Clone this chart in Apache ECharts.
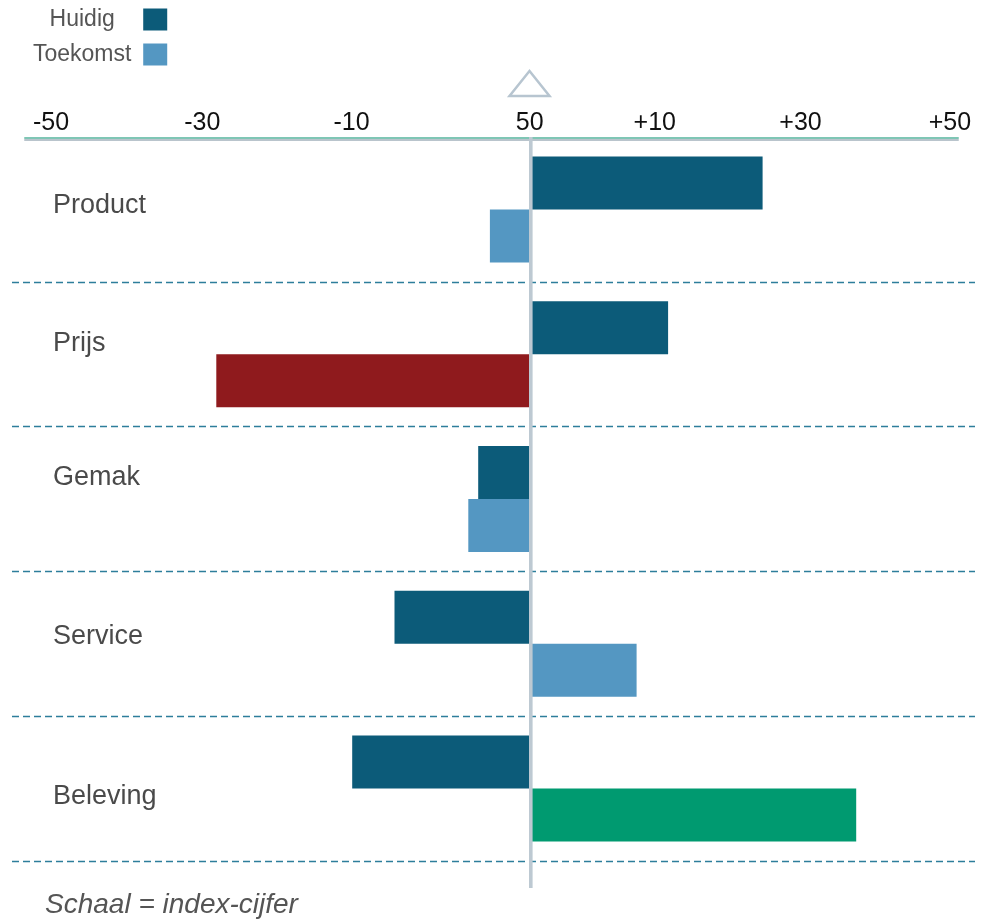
<!DOCTYPE html>
<html lang="nl">
<head>
<meta charset="UTF-8">
<title>Huidig vs Toekomst</title>
<script src="https://cdn.jsdelivr.net/npm/echarts@6/dist/echarts.min.js"></script>
<style>
  html, body { margin: 0; padding: 0; background: #fff; }
  #main { width: 981px; height: 920px; }
</style>
</head>
<body>
<div id="main"></div>
<script>
// data
var categories = ['Product', 'Prijs', 'Gemak', 'Service', 'Beleving'];
var huidig = [25.9, 15.4, -5.7, -15.0, -19.7];
var toekomst = [-4.4, -34.8, -6.8, 11.9, 36.3];
// top scale labels and where they sit on the axis
var tickText = ['-50', '-30', '-10', '50', '+10', '+30', '+50'];
var tickPos = [-53.2, -36.4, -19.8, 0, 13.9, 30.1, 46.7];

var C_HUIDIG = '#0c5b79';
var C_TOEKOMST = '#5497c2';
var highlight = { 'Prijs': '#8f1a1d', 'Beleving': '#009a70' };

var chart = echarts.init(document.getElementById('main'));

var toekomstData = toekomst.map(function (v, i) {
  var c = highlight[categories[i]];
  return c ? { value: v, itemStyle: { color: c } } : v;
});

// labels in the original do not sit exactly mid-band
var nudge = [-4, -11, -21, -7, 8];
var catRich = {};
nudge.forEach(function (d, i) {
  catRich['n' + i] = {
    fontFamily: 'Liberation Sans', fontSize: 27, color: '#4a4a4a',
    padding: d < 0 ? [0, 0, -2 * d, 0] : [2 * d, 0, 0, 0]
  };
});

var option = {
  animation: false,
  title: {
    text: 'Schaal = index-cijfer',
    left: 40,
    top: 886,
    textStyle: { fontFamily: 'Liberation Sans', fontSize: 28, fontStyle: 'italic', fontWeight: 'normal', color: '#555' }
  },
  legend: {
    orient: 'vertical',
    left: 28,
    top: 3,
    align: 'right',
    icon: 'rect',
    itemWidth: 24,
    itemHeight: 22,
    itemGap: 12,
    data: ['Huidig', 'Toekomst'],
    formatter: '{t|{name}}',
    textStyle: {
      rich: { t: { width: 112, align: 'center', fontFamily: 'Liberation Sans', fontSize: 23, color: '#555' } }
    }
  },
  grid: [
    { left: 12, right: 6, top: 137, bottom: 59 },
    { left: 25, right: 23, top: 137, height: 1 }
  ],
  xAxis: [
    { type: 'value', gridIndex: 0, min: -57.5, max: 49.5, show: false },
    {
      type: 'value', gridIndex: 1, position: 'top',
      min: -56.1, max: 47.6,
      splitLine: { show: false },
      axisTick: { show: false },
      axisLine: { show: true, lineStyle: { color: '#7fc6b5', width: 2, shadowColor: '#b9c4cc', shadowOffsetY: 2, shadowBlur: 0 } },
      axisLabel: {
        customValues: tickPos,
        margin: 1,
        fontFamily: 'Liberation Sans',
        fontSize: 25,
        color: '#111',
        formatter: function (v) {
          var i = tickPos.indexOf(v);
          return i >= 0 ? tickText[i] : '';
        }
      }
    }
  ],
  yAxis: [
    {
      type: 'category', gridIndex: 0, inverse: true, data: categories,
      axisLine: { show: false },
      axisTick: { show: false },
      axisLabel: {
        inside: true, margin: 41,
        formatter: function (v, i) { return '{n' + i + '|' + v + '}'; },
        rich: catRich
      },
      splitLine: {
        show: true,
        interval: function (i) { return i > 0; },
        lineStyle: { color: '#2d7e9b', type: [7, 4], width: 1.3 }
      }
    },
    { type: 'value', gridIndex: 1, show: false }
  ],
  series: [
    {
      name: 'Huidig', type: 'bar', xAxisIndex: 0, yAxisIndex: 0,
      barWidth: 53, barGap: '0%',
      itemStyle: { color: C_HUIDIG },
      data: huidig
    },
    {
      name: 'Toekomst', type: 'bar', xAxisIndex: 0, yAxisIndex: 0,
      barWidth: 53, barGap: '0%',
      itemStyle: { color: C_TOEKOMST },
      data: toekomstData
    }
  ]
};
chart.setOption(option);

// centre line and marker, placed from the zero of the scale
var x0 = chart.convertToPixel({ xAxisIndex: 0 }, 0);
chart.setOption({
  graphic: [
    {
      type: 'line', z: 100,
      shape: { x1: x0 + 1.3, y1: 137, x2: x0 + 1.3, y2: 888 },
      style: { stroke: '#bdc9d2', lineWidth: 3.6 }
    },
    {
      type: 'polygon', z: 100,
      shape: { points: [[x0, 71], [x0 - 20, 96], [x0 + 20, 96]] },
      style: { fill: 'none', stroke: '#b7c5d0', lineWidth: 2.5 }
    }
  ]
});
</script>
</body>
</html>
